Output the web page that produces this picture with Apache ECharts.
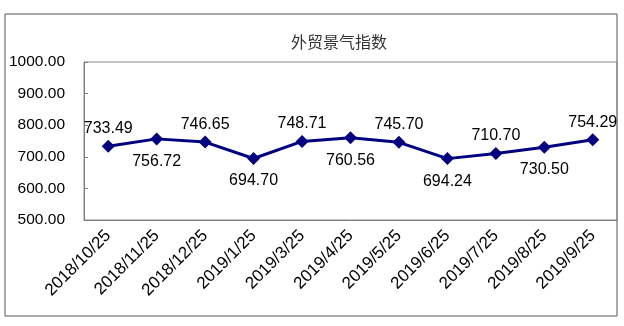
<!DOCTYPE html>
<html>
<head>
<meta charset="utf-8">
<script src="https://cdn.jsdelivr.net/npm/echarts@6/dist/echarts.min.js"></script>
<style>
  html, body { margin: 0; padding: 0; background: #fff; }
  #chart { width: 624px; height: 326px; }
</style>
</head>
<body>
<div id="chart"></div>
<script>
// Foreign trade prosperity index, monthly readings
const titleText = '外贸景气指数';
const dates = ['2018/10/25', '2018/11/25', '2018/12/25', '2019/1/25', '2019/3/25', '2019/4/25',
               '2019/5/25', '2019/6/25', '2019/7/25', '2019/8/25', '2019/9/25'];
const indexValues = [733.49, 756.72, 746.65, 694.70, 748.71, 760.56, 745.70, 694.24, 710.70, 730.50, 754.29];
// where each value label sits relative to its point
const labelSides = ['top', 'bottom', 'top', 'bottom', 'top', 'bottom', 'top', 'bottom', 'top', 'bottom', 'top'];
const yMin = 500, yMax = 1000, yStep = 100;

const chart = echarts.init(document.getElementById('chart'), null, { renderer: 'canvas' });

const seriesData = indexValues.map((v, i) => ({
  value: v,
  label: {
    position: labelSides[i],
    distance: labelSides[i] === 'top' ? 3 : 8
  }
}));

chart.setOption({
  animation: false,
  backgroundColor: '#fff',
  graphic: [{
    type: 'rect',
    shape: { x: 5, y: 14, width: 612, height: 302 },
    style: { fill: 'none', stroke: '#555', lineWidth: 1 },
    silent: true,
    z: -1
  }],
  title: {
    text: titleText,
    left: 334,
    top: 29,
    textAlign: 'center',
    textStyle: {
      fontFamily: 'Noto Sans CJK SC',
      fontSize: 16,
      fontWeight: 'normal',
      color: '#333'
    }
  },
  grid: {
    left: 84, right: 7, top: 62, bottom: 106,
    show: true, borderColor: '#888', borderWidth: 1, backgroundColor: 'transparent'
  },
  xAxis: {
    type: 'category',
    data: dates,
    boundaryGap: true,
    axisLine: { lineStyle: { color: '#808080', width: 1 } },
    axisTick: { inside: true, length: 4, interval: 0, lineStyle: { color: '#808080' } },
    axisLabel: {
      interval: 0,
      rotate: 45,
      margin: 13,
      fontFamily: 'Liberation Sans, Arial, sans-serif',
      fontSize: 17,
      color: '#000'
    },
    splitLine: { show: false }
  },
  yAxis: {
    type: 'value',
    min: yMin,
    max: yMax,
    interval: yStep,
    axisLine: { show: true, lineStyle: { color: '#808080', width: 1 } },
    axisTick: { show: true, inside: true, length: 4, lineStyle: { color: '#808080' } },
    axisLabel: {
      margin: 19,
      formatter: v => v.toFixed(2),
      fontFamily: 'Liberation Sans, Arial, sans-serif',
      fontSize: 15.5,
      color: '#000'
    },
    splitLine: { show: false }
  },
  series: [{
    type: 'line',
    data: seriesData,
    symbol: 'diamond',
    symbolSize: 13,
    lineStyle: { color: '#000080', width: 3 },
    itemStyle: { color: '#000080' },
    label: {
      show: true,
      formatter: p => p.value.toFixed(2),
      fontFamily: 'Liberation Sans, Arial, sans-serif',
      fontSize: 16,
      color: '#000'
    }
  }]
});
</script>
</body>
</html>
